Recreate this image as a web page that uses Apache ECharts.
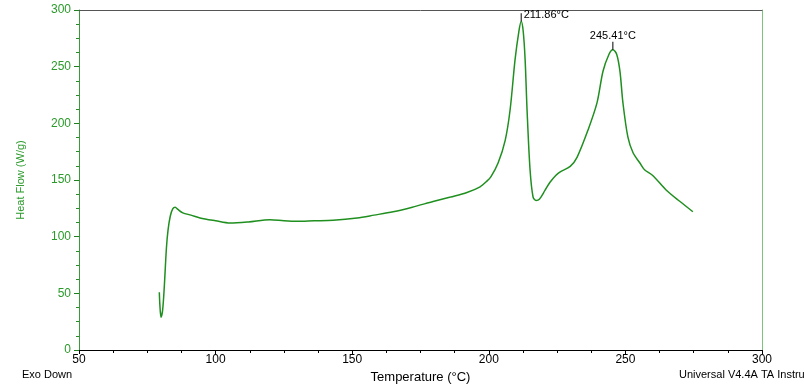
<!DOCTYPE html>
<html><head><meta charset="utf-8">
<script src="https://cdn.jsdelivr.net/npm/echarts@6/dist/echarts.min.js"></script>
<style>html,body{margin:0;padding:0;background:#fff}#c{width:804px;height:384px}</style>
</head><body><div id="c"></div>
<script>
const temperature = [79.4,79.6,80.0,80.6,81.2,82.0,82.6,83.4,84.3,85.2,86.2,88,91,94.3,100,105.3,112,119.9,125,129.8,136,143,151.8,158,165,172,179.6,186,192,196.8,199.3,200.8,203.4,206,207.8,209.6,211,211.86,212.6,213.3,214,215.1,216.2,217.3,218.5,220.6,222.4,224.5,226,229.8,232.3,236.3,239.6,241.8,244,245.41,246.8,248,249.1,250.9,252.8,255.3,257,260,265,270,274.7];
const heatFlow = [51,40,29,35,55,90,106,118,124.5,126,124,121,119,116.5,114,112,113,115,114,113.5,114,114.5,116.5,119,122,126,131,135,139,144,149,153,165,185,212,256,281,290,281,256,212,159,135,132,133,141,148,154,157,162,170,194,218,246,261,265,261,246,218,188,174,165,159,154,141,131,122];
const peakTemps = [211.86, 245.41];
const peakHeights = [290, 265];
const peakLabels = ['211.86°C', '245.41°C'];
const xTicks = [50,100,150,200,250,300];
const yTicks = [0,50,100,150,200,250,300];

const green = '#1f8f1f';
const labelGreen = '#2a9a2a';
const chart = echarts.init(document.getElementById('c'));
const data = temperature.map((t,i)=>[t, heatFlow[i]]);
chart.setOption({
  animation:false,
  textStyle:{fontFamily:'Liberation Sans, Arial, sans-serif'},
  grid:{left:79,right:42,top:10,bottom:34,containLabel:false,outerBoundsMode:'none'},
  xAxis:[{
    type:'value',min:xTicks[0],max:xTicks[xTicks.length-1],interval:50,
    name:'Temperature (°C)',nameLocation:'middle',nameGap:20,
    nameTextStyle:{fontSize:13,color:'#000'},
    axisLine:{show:true,onZero:false,lineStyle:{color:'#000',width:1}},
    axisTick:{show:true,length:4,lineStyle:{color:'#000'}},
    minorTick:{show:true,splitNumber:4,length:3,lineStyle:{color:'#000'}},
    axisLabel:{fontSize:12,color:'#000',margin:4},
    splitLine:{show:false}
  },{
    type:'value',position:'top',min:50,max:300,
    axisLine:{show:true,onZero:false,lineStyle:{color:'#555',width:1}},
    axisTick:{show:false},axisLabel:{show:false},splitLine:{show:false}
  }],
  yAxis:[{
    type:'value',min:yTicks[0],max:yTicks[yTicks.length-1],interval:50,
    name:'Heat Flow (W/g)',nameLocation:'middle',nameGap:53,
    nameTextStyle:{fontSize:11,color:labelGreen},
    axisLine:{show:true,onZero:false,lineStyle:{color:'#3a9a3a',width:1}},
    axisTick:{show:true,length:5,lineStyle:{color:'#1f7f1f'}},
    minorTick:{show:true,splitNumber:4,length:3,lineStyle:{color:'#2a8a2a'}},
    axisLabel:{fontSize:12,color:labelGreen,margin:8},
    splitLine:{show:false}
  },{
    type:'value',position:'right',min:0,max:300,
    axisLine:{show:true,onZero:false,lineStyle:{color:'#7cc47c',width:1}},
    axisTick:{show:false},axisLabel:{show:false},splitLine:{show:false}
  }],
  series:[{
    type:'line',data:data,showSymbol:false,smooth:0.3,
    lineStyle:{color:green,width:1.5},
    markPoint:{
      symbol:'rect',symbolSize:[1,8],symbolOffset:[0,-4],
      itemStyle:{color:'#000'},
      data:[
        {coord:[peakTemps[0],peakHeights[0]],label:{show:true,formatter:peakLabels[0],position:'right',distance:2,offset:[0,-2],color:'#000',fontSize:11}},
        {coord:[peakTemps[1],peakHeights[1]],label:{show:true,formatter:peakLabels[1],position:'top',distance:0,color:'#000',fontSize:11}}
      ]
    }
  }],
  graphic:[
    {type:'text',left:22,top:369,style:{text:'Exo Down',fill:'#000',font:'11px Liberation Sans'}},
    {type:'text',left:679,top:369,style:{text:'Universal V4.4A TA Instruments',fill:'#000',font:'11px Liberation Sans'}}
  ]
});
</script></body></html>
